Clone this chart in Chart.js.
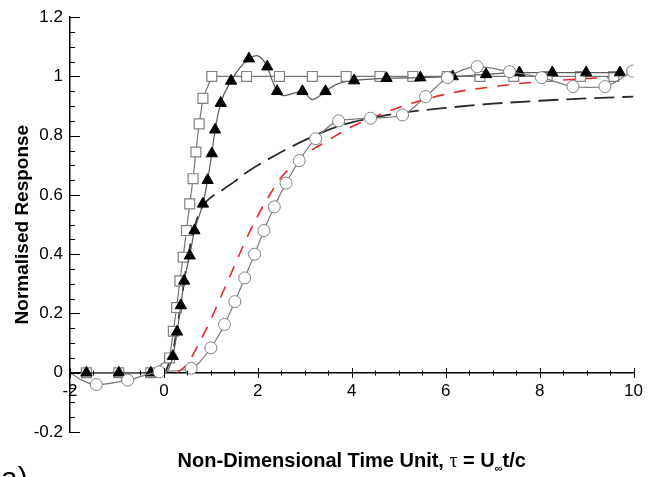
<!DOCTYPE html>
<html>
<head>
<meta charset="utf-8">
<script src="https://cdn.jsdelivr.net/npm/chart.js@4/dist/chart.umd.min.js"></script>
<style>
html,body{margin:0;padding:0;background:#fff;}
#wrap{width:651px;height:477px;position:relative;}
</style>
</head>
<body>
<div id="wrap"><canvas id="c" width="651" height="477"></canvas></div>
<script>
// ---- tick labels ----
const xTickLabels = ['-2','0','2','4','6','8','10'];
const yTickLabels = ['-0.2','0','0.2','0.4','0.6','0.8','1','1.2'];
const xTitleParts = ['Non-Dimensional Time Unit, ', '\u03C4', ' = U', '\u221E', 't/c'];
const yTitle = 'Normalised Response';
const panelLabel = 'a)';

// ---- open squares series ----
const squareX = [-1.65,-0.96,-0.28,0.12,0.2,0.27,0.34,0.41,0.48,0.55,0.62,0.68,0.75,0.83,1.02,1.76,2.46,3.16,3.88,4.60,5.30,6.03,6.73,7.45,8.16,8.87,9.58];
const squareY = [0,0,0,0.05,0.14,0.22,0.31,0.39,0.48,0.57,0.655,0.745,0.84,0.926,1.0,1,1,1,1,1,1,1,1,1,1,1,1];

// ---- filled triangles series (markers) ----
const triX = [-1.65,-0.96,-0.28,0.19,0.28,0.36,0.43,0.55,0.65,0.83,0.93,1.02,1.09,1.21,1.43,1.81,2.20,2.41,2.95,3.44,4.05,4.74,5.46,6.15,6.86,7.57,8.27,8.99,9.71];
const triY = [0,0,0,0.056,0.138,0.227,0.31,0.395,0.48,0.57,0.65,0.74,0.82,0.91,0.985,1.06,1.033,0.95,0.95,0.95,0.986,0.994,0.996,1.0,1.007,1.013,1.013,1.013,1.013];
// triangles series (continuous curve)
const triLineX = [-1.65,-0.28,0.03,0.19,0.28,0.36,0.43,0.55,0.65,0.83,0.93,1.02,1.09,1.21,1.43,1.62,1.81,1.97,2.1,2.2,2.3,2.41,2.56,2.75,2.95,3.05,3.16,3.3,3.44,3.7,4.05,4.74,5.46,6.15,6.86,7.57,8.27,8.99,9.71];
const triLineY = [0,0,0,0.056,0.138,0.227,0.31,0.395,0.48,0.57,0.65,0.74,0.82,0.91,0.985,1.03,1.06,1.07,1.058,1.033,0.99,0.95,0.935,0.943,0.95,0.936,0.922,0.932,0.95,0.975,0.986,0.994,0.996,1.0,1.007,1.013,1.013,1.013,1.013];

// ---- open circles series (markers) ----
const circX = [-1.44,-0.77,-0.1,0.58,1.0,1.29,1.51,1.72,1.93,2.13,2.35,2.60,2.88,3.23,3.72,4.40,5.08,5.57,6.04,6.67,7.36,8.04,8.71,9.39,9.98];
const circY = [-0.04,-0.025,0.003,0.015,0.084,0.163,0.24,0.32,0.40,0.48,0.56,0.64,0.716,0.79,0.85,0.859,0.87,0.932,0.996,1.033,1.016,0.996,0.966,0.966,1.018];
// circles series (continuous curve)
const circLineX = [-2,-1.75,-1.44,-0.77,-0.1,0.58,1.0,1.29,1.51,1.72,1.93,2.13,2.35,2.60,2.88,3.23,3.72,4.05,4.40,5.08,5.57,6.04,6.67,7.36,8.04,8.71,9.05,9.39,9.98];
const circLineY = [0,-0.025,-0.04,-0.025,0.003,0.015,0.084,0.163,0.24,0.32,0.40,0.48,0.56,0.64,0.716,0.79,0.85,0.856,0.859,0.87,0.932,0.996,1.033,1.016,0.996,0.966,0.963,0.966,1.018];

// ---- black long-dash curve ----
const blackDashX = [0.03,0.2,0.35,0.5,0.65,0.8,0.95,1.2,1.5,1.75,2.0,2.5,3.0,3.5,4.0,4.5,5.0,6.0,7.0,8.0,9.0,10.0];
const blackDashY = [0,0.08,0.22,0.38,0.49,0.555,0.585,0.612,0.645,0.675,0.7,0.745,0.785,0.82,0.845,0.862,0.876,0.894,0.908,0.918,0.926,0.932];

// ---- red dashed curve ----
const redDashX = [0.28,0.5,0.75,1.0,1.25,1.5,1.75,2.0,2.25,2.5,2.75,3.0,3.5,4.0,4.5,5.0,5.5,6.0,6.5,7.0,7.5,8.0,8.5,9.0,9.5,9.85];
const redDashY = [0,0.03,0.1,0.18,0.27,0.36,0.45,0.53,0.6,0.66,0.7,0.735,0.785,0.83,0.865,0.895,0.92,0.94,0.955,0.965,0.975,0.982,0.988,0.993,0.997,1.0];

const pts = (xs, ys) => xs.map((x, i) => ({x: x, y: ys[i]}));
const FONT = '"Liberation Sans", Arial, sans-serif';

const decorPlugin = {
  id: 'decor',
  afterDraw(chart) {
    const {ctx, scales: {x, y}, chartArea} = chart;
    ctx.save();
    ctx.strokeStyle = '#000';
    ctx.lineWidth = 1;
    // x-axis ticks (crossing the axis line at y = 0)
    const y0 = Math.round(y.getPixelForValue(0));
    const xMinorStep = 0.5, xMajorStep = 2;
    const nX = Math.round((x.max - x.min) / xMinorStep);
    for (let i = 0; i <= nX; i++) {
      const v = x.min + i * xMinorStep;
      const major = Math.abs(v / xMajorStep - Math.round(v / xMajorStep)) < 1e-6;
      const px = Math.round(x.getPixelForValue(v)) + 0.5;
      const h = major ? 5 : 2.5;
      ctx.beginPath();
      ctx.moveTo(px, y0 - h);
      ctx.lineTo(px, y0 + h);
      ctx.stroke();
    }
    // y-axis ticks (pointing inward)
    const yMinorStep = 0.05, yMajorStep = 0.2;
    const nY = Math.round((y.max - y.min) / yMinorStep);
    const xl = chartArea.left;
    for (let i = 0; i <= nY; i++) {
      const v = y.min + i * yMinorStep;
      const major = Math.abs(v / yMajorStep - Math.round(v / yMajorStep)) < 1e-6;
      const py = Math.round(y.getPixelForValue(v)) + 0.5;
      ctx.beginPath();
      ctx.moveTo(xl, py);
      ctx.lineTo(xl + (major ? 10 : 5), py);
      ctx.stroke();
    }
    // x-axis title with subscript
    const fonts = ['bold 20px ' + FONT, '20px "Liberation Serif", serif', 'bold 20px ' + FONT, 'bold 11px ' + FONT, 'bold 20px ' + FONT];
    const dys = [0, 0, 0, 5, 0];
    let total = 0;
    const widths = xTitleParts.map((t, i) => { ctx.font = fonts[i]; const w = ctx.measureText(t).width; total += w; return w; });
    let cx = (chartArea.left + chartArea.right) / 2 - total / 2;
    const base = 467;
    ctx.fillStyle = '#000';
    ctx.textBaseline = 'alphabetic';
    ctx.textAlign = 'left';
    xTitleParts.forEach((t, i) => {
      ctx.font = fonts[i];
      ctx.fillText(t, cx, base + dys[i]);
      cx += widths[i];
    });
    // panel label
    ctx.font = '30px ' + FONT;
    ctx.fillText(panelLabel, 1, 488);
    ctx.restore();
  }
};

const chart = new Chart(document.getElementById('c'), {
  type: 'scatter',
  data: {
    datasets: [
      { // circles markers
        data: pts(circX, circY), showLine: false, order: 0,
        pointStyle: 'circle', pointRadius: 6, pointBorderColor: '#808080', pointBackgroundColor: '#fff', pointBorderWidth: 1
      },
      { // circles line
        data: pts(circLineX, circLineY), showLine: true, order: 1, pointRadius: 0,
        borderColor: '#7a7a7a', borderWidth: 1.2, cubicInterpolationMode: 'monotone'
      },
      { // triangles markers
        data: pts(triX, triY), showLine: false, order: 2,
        pointStyle: 'triangle', pointRadius: 6.5, pointBorderColor: '#000', pointBackgroundColor: '#000', pointBorderWidth: 1
      },
      { // triangles line
        data: pts(triLineX, triLineY), showLine: true, order: 3, pointRadius: 0,
        borderColor: '#5a5a5a', borderWidth: 1.2, cubicInterpolationMode: 'monotone'
      },
      { // squares
        data: pts(squareX, squareY), showLine: true, order: 4,
        borderColor: '#777', borderWidth: 1.2, tension: 0,
        pointStyle: 'rect', pointRadius: 7, pointBorderColor: '#808080', pointBackgroundColor: '#fff', pointBorderWidth: 1.2
      },
      { // red dashed
        data: pts(redDashX, redDashY), showLine: true, order: 5, pointRadius: 0,
        borderColor: '#e8262a', borderWidth: 1.6, borderDash: [12, 10], cubicInterpolationMode: 'monotone'
      },
      { // black dashed
        data: pts(blackDashX, blackDashY), showLine: true, order: 6, pointRadius: 0,
        borderColor: '#2a2a2a', borderWidth: 1.8, borderDash: [20, 8], cubicInterpolationMode: 'monotone'
      }
    ]
  },
  options: {
    responsive: false,
    animation: false,
    devicePixelRatio: 1,
    layout: { padding: { left: 0, right: 12, top: 13, bottom: 45 } },
    plugins: { legend: { display: false }, tooltip: { enabled: false } },
    scales: {
      x: {
        type: 'linear', position: { y: 0 }, min: -2, max: 10,
        grid: { display: false, drawTicks: false },
        border: { display: true, color: '#000', width: 1.5 },
        ticks: { stepSize: 2, padding: 8, maxRotation: 0, autoSkip: false, color: '#000',
          font: { family: FONT, size: 17 },
          callback: (v, i) => xTickLabels[i] }
      },
      y: {
        type: 'linear', position: 'left', min: -0.2, max: 1.2,
        grid: { display: false, drawTicks: false },
        border: { display: true, color: '#000', width: 1.5 },
        ticks: { stepSize: 0.2, padding: 7, color: '#000',
          font: { family: FONT, size: 17 },
          callback: (v, i) => yTickLabels[i] },
        title: { display: true, text: yTitle, color: '#000', padding: { top: 11, bottom: 0 },
          font: { family: FONT, size: 19, weight: 'bold' } },
        afterFit: (s) => { s.width = 70; }
      }
    }
  },
  plugins: [decorPlugin]
});
</script>
</body>
</html>
